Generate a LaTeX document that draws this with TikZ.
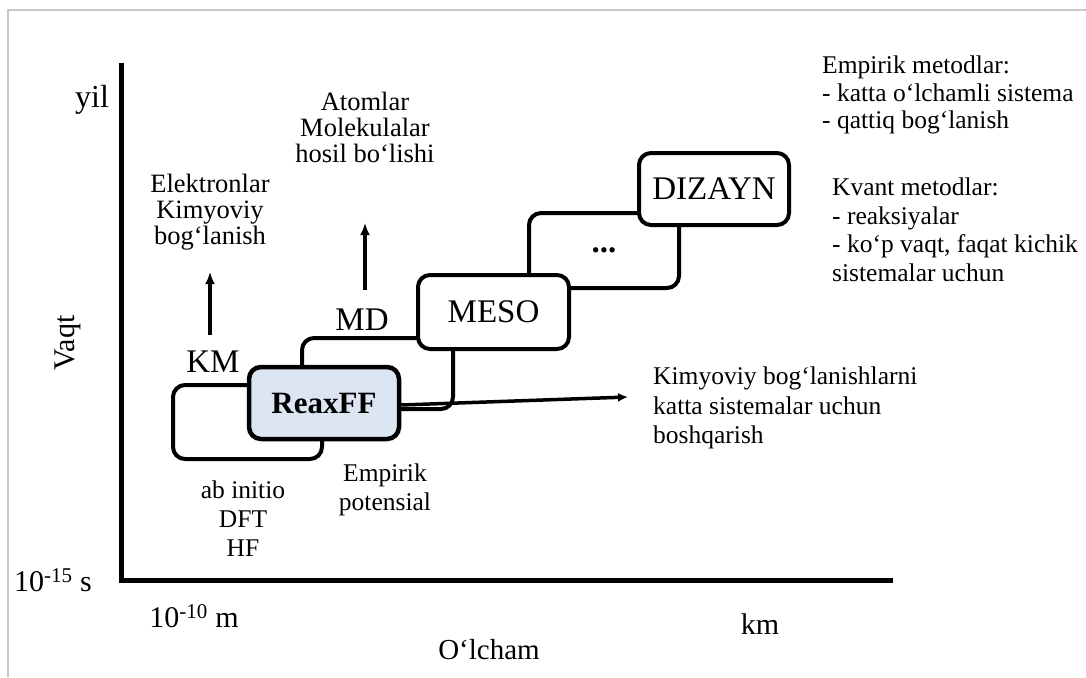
\documentclass[tikz,border=0pt]{standalone}
\usepackage{fontspec}
\setmainfont{Liberation Serif}
\usetikzlibrary{arrows.meta}
\definecolor{reaxfill}{HTML}{DCE6F2}
\definecolor{framegray}{HTML}{C8C8C8}
\begin{document}
\begin{tikzpicture}[x=1pt,y=-1pt,
  scalebox/.style={draw=black, line width=4pt, rounded corners=12pt, fill=white,
    minimum width=150pt, minimum height=73pt, inner sep=0pt,
    font=\fontsize{33}{36}\selectfont},
  lbl/.style={font=\fontsize{25.5}{#1}\selectfont, inner sep=0pt},
  lbl/.default=28,
  biglbl/.style={font=\fontsize{30}{33}\selectfont, inner sep=0pt},
  boxlbl/.style={font=\fontsize{33}{36}\selectfont, inner sep=0pt},
  axisline/.style={line width=5pt, line join=miter},
  conn/.style={line width=3.5pt, -{Latex[length=12pt,width=10pt]}},
]
\useasboundingbox (0,0) rectangle (1086,677);

% outer frame
\draw[framegray, line width=2pt] (8,677) -- (8,10) -- (1086,10);

% axes
\coordinate (ytop) at (121,63);
\coordinate (origin) at (121,580);
\coordinate (xend) at (893,580);
\draw[axisline] (ytop) -- (origin) -- (xend);

% axis labels
\node[biglbl, font=\fontsize{32}{35}\selectfont] (yil) at (92,100) {yil};
\node[biglbl, rotate=90] (vaqt) at (68,343) {Vaqt};
\node[biglbl] (tmin) at (53,580) {10\textsuperscript{-15} s};
\node[biglbl] (lmin) at (194,616) {10\textsuperscript{-10} m};
\node[biglbl] (lmax) at (760,624) {km};
\node[biglbl, font=\fontsize{29}{32}\selectfont] (olcham) at (489,650) {O‘lcham};

% staircase of methods (back boxes first)
\node[scalebox, minimum width=150pt, minimum height=75pt] (dots) at (604,250.5) {\textbf{...}};
\node[scalebox, minimum width=150pt, minimum height=72pt] (dizayn) at (714,189) {DIZAYN};
\node[scalebox, minimum width=151pt, minimum height=71pt] (md) at (377.5,373.5) {};
\node[scalebox, minimum width=151pt, minimum height=74pt] (meso) at (493.5,312) {MESO};
\node[scalebox, minimum width=149pt, minimum height=74pt] (km) at (247.5,422) {};
\node[scalebox, line width=4.5pt, fill=reaxfill, minimum width=150pt, minimum height=72pt,
  font=\fontsize{31}{34}\selectfont] (reax) at (324,403) {\textbf{ReaxFF}};

% box captions
\node[boxlbl] (kmlbl) at (213,362) {KM};
\node[boxlbl] (mdlbl) at (362,320) {MD};

% annotations
\node[lbl=26, align=center, font=\fontsize{26.5}{26}\selectfont] (elek) at (210,212) {Elektronlar\\Kimyoviy\\bog‘lanish};
\node[lbl=26, align=center, font=\fontsize{26.5}{26}\selectfont] (atom) at (365,127) {Atomlar\\Molekulalar\\hosil bo‘lishi};
\node[lbl=29, align=center] (abinit) at (243,519) {ab initio\\DFT\\HF};
\node[lbl=29, align=center] (empot) at (385,490) {Empirik\\potensial};
\node[lbl=27.5, align=left, anchor=west] (empmet) at (822,95) {Empirik metodlar:\\- katta o‘lchamli sistema\\- qattiq bog‘lanish};
\node[lbl=28.5, align=left, anchor=west] (kvant) at (832,230) {Kvant metodlar:\\- reaksiyalar\\- ko‘p vaqt, faqat kichik\\sistemalar uchun};
\node[lbl=29.5, align=left, anchor=west] (ctrl) at (653,408) {Kimyoviy bog‘lanishlarni\\katta sistemalar uchun\\boshqarish};

% connectors
\coordinate (kmup) at (210,335);
\coordinate (kmtip) at (210,272);
\coordinate (mdup) at (365,290);
\coordinate (mdtip) at (365,223);
\coordinate (ctrltip) at (628,397);
\draw[conn] (kmup) -- (kmtip);
\draw[conn] (mdup) -- (mdtip);
\draw[conn, -{Latex[length=10pt,width=9pt]}] (reax.east |- 0,405) -- (ctrltip);
\end{tikzpicture}
\end{document}
